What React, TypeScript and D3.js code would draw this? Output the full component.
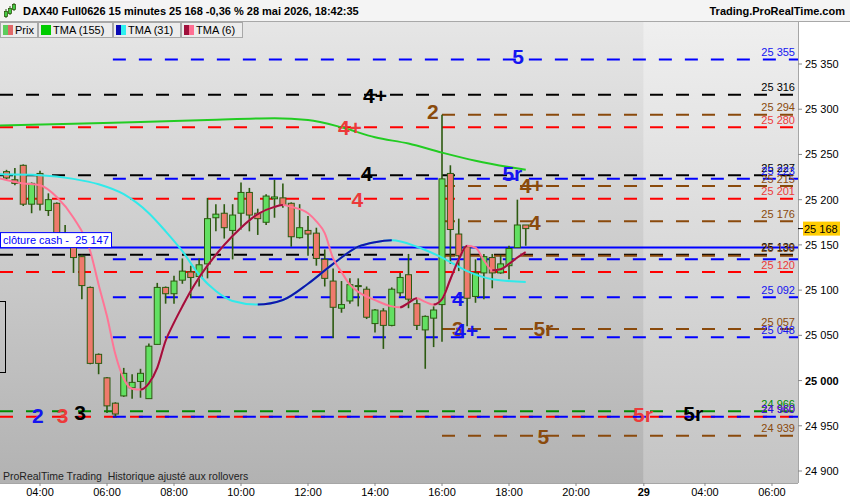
import * as d3 from 'd3';

const FONT = '"Liberation Sans", Arial, Helvetica, sans-serif';

// 15-minute bars, slot 0 = 04:00 on 28 May
const firstSlot = -4;
const opens = [
  25231, 25222, 25238, 25195, 25229, 25188, 25196, 25163, 25147, 25137,
  25103, 25029, 25003, 24975, 24983, 24992, 24999, 24980, 25040, 25103,
  25096, 25111, 25120, 25115, 25129, 25180, 25185, 25166, 25185, 25208,
  25185, 25175, 25201, 25202, 25196, 25158, 25166, 25163, 25134, 25110,
  25080, 25088, 25104, 25101, 25063, 25077, 25061, 25097, 25117, 25085,
  25056, 25069, 25084, 25229, 25162, 25148, 25093, 25119, 25136, 25119,
  25127, 25147, 25172,
];
const highs = [
  25233, 25235, 25239, 25219, 25232, 25207, 25197, 25172, 25149, 25139,
  25104, 25030, 25004, 24976, 25014, 25007, 25013, 25041, 25108, 25104,
  25116, 25135, 25127, 25135, 25202, 25195, 25195, 25195, 25219, 25213,
  25190, 25206, 25222, 25218, 25197, 25195, 25182, 25169, 25145, 25124,
  25110, 25113, 25113, 25104, 25079, 25080, 25103, 25119, 25140, 25090,
  25072, 25082, 25294, 25238, 25179, 25150, 25134, 25140, 25140, 25139,
  25149, 25200, 25172,
];
const lows = [
  25222, 25216, 25193, 25185, 25188, 25182, 25158, 25147, 25119, 25090,
  25018, 25007, 24964, 24960, 24982, 24980, 24981, 24980, 25040, 25085,
  25085, 25107, 25091, 25104, 25113, 25165, 25157, 25134, 25167, 25165,
  25161, 25172, 25180, 25191, 25148, 25157, 25138, 25127, 25104, 25047,
  25075, 25085, 25082, 25068, 25053, 25035, 25060, 25093, 25080, 25056,
  25013, 25037, 25043, 25129, 25121, 25060, 25086, 25090, 25102, 25118,
  25112, 25147, 25149,
];
const closes = [
  25224, 25218, 25195, 25218, 25195, 25200, 25162, 25150, 25136, 25105,
  25019, 25019, 24972, 24963, 25008, 24998, 25008, 25038, 25103, 25096,
  25110, 25121, 25114, 25128, 25179, 25184, 25169, 25183, 25208, 25183,
  25179, 25204, 25203, 25194, 25159, 25169, 25162, 25135, 25113, 25081,
  25084, 25106, 25105, 25070, 25078, 25061, 25101, 25114, 25090, 25061,
  25071, 25078, 25223, 25167, 25138, 25091, 25119, 25137, 25119, 25129,
  25146, 25172, 25168,
];

// moving averages
const tma155Slots = [-5, 4, 12, 20, 28, 32, 36, 40, 44, 48, 52, 56, 58];
const tma155 = [25282, 25284, 25286, 25288, 25290, 25288, 25280, 25269, 25262, 25252, 25243, 25236, 25233];
const tma31Slots = [-5, 0, 4, 7, 10, 13, 15, 17, 19, 21, 23, 26, 29, 32, 35, 38, 40, 42, 45, 48, 51, 54, 58];
const tma31 = [25228, 25227, 25223, 25217, 25206, 25185, 25165, 25143, 25117, 25099, 25088, 25084, 25089, 25107, 25129, 25148, 25153, 25155, 25148, 25136, 25121, 25112, 25109];
const tma6Slots = [-5, -2, 0, 2, 4, 6, 7, 8, 9, 10, 11, 12, 13, 14, 15, 16, 17, 18, 19, 20, 22, 24, 26, 28, 29, 30, 32, 33, 34, 35, 36, 37, 38, 40, 42, 43, 44, 45, 46, 47, 48, 49, 50, 51, 52, 53, 54, 55, 56, 57, 58];
const tma6 = [
  25224, 25218, 25216, 25203, 25180, 25143, 25106, 25071, 25029, 25002,
  24991, 24990, 24997, 25014, 25044, 25064, 25082, 25099, 25114, 25127,
  25150, 25169, 25184, 25192, 25194, 25192, 25185, 25176, 25163, 25135,
  25120, 25106, 25098, 25089, 25082, 25081, 25086, 25091, 25087, 25084,
  25090, 25112, 25134, 25149, 25147, 25133, 25122, 25123, 25129, 25136, 25142,
];

// horizontal levels
const levelPrices = [25355, 25316, 25294, 25280, 25227, 25223, 25215, 25201, 25176, 25139, 25138, 25134, 25120, 25092, 25057, 25048, 24966, 24960, 24960, 24939];
const levelKinds = ['blue', 'black', 'brown', 'red', 'black', 'blue', 'brown', 'red', 'brown', 'black', 'brown', 'blue', 'red', 'blue', 'brown', 'blue', 'green', 'red', 'blue', 'brown'];
const levelShown = [true, true, true, true, true, true, true, true, true, true, true, false, true, true, true, true, true, true, true, true];
const cashClose = 25147;

// signal tags on the levels
const tagTexts = ['5', '4+', '2', '4+', '4', '5r', '4+', '4', '4', '4', '3', '5r', '4+', '2', '3', '3', '5r', '5r', '5'];
const tagKinds = ['blue', 'black', 'brown', 'red', 'black', 'blue', 'brown', 'red', 'brown', 'blue', 'brown', 'brown', 'blue', 'blue', 'red', 'black', 'red', 'black', 'brown'];
const tagPrices = [25358, 25315, 25298, 25280, 25229, 25229, 25216, 25200, 25175, 25091, 25058, 25058, 25055, 24961, 24961, 24965, 24962, 24964, 24938];
const tagSlots = [57.1, 40, 46.9, 37, 39, 56.4, 58.7, 37.9, 59.1, 49.9, 49.9, 60.1, 50.9, -0.25, 2.7, 4.8, 72, 78, 60.1];

const xTickLabels = ['04:00', '06:00', '08:00', '10:00', '12:00', '14:00', '16:00', '18:00', '20:00', '29', '04:00', '06:00'];
const xTickSlots = [0, 8, 16, 24, 32, 40, 48, 56, 64, 72.1, 79.4, 87.4];
const yTicks = [24900, 24950, 25000, 25050, 25100, 25150, 25200, 25250, 25300, 25350];

const legendNames = ['Prix', 'TMA (155)', 'TMA (31)', 'TMA (6)'];

const lineColor: Record<string, string> = {
  blue: '#0000ff', black: '#000000', brown: '#8a4a0c', red: '#ff0000', green: '#008a00',
};
const tagColor: Record<string, string> = {
  blue: '#1414f0', black: '#000000', brown: '#8a4a0c', red: '#ec3a3a', green: '#008a00',
};
const lineStart: Record<string, number> = { blue: 8.7, black: -6, brown: 48, red: -6, green: -6 };

const PL = 0, PR = 798, PT = 21, PB = 483;

export default function App() {
  const x = d3.scaleLinear().domain([0, 8]).range([40, 107]);
  const y = d3.scaleLinear().domain([24900, 25350]).range([471, 64]);
  const fmt = d3.formatLocale({ decimal: ',', thousands: ' ', grouping: [3], currency: ['', ''] }).format(',d');
  const futureX = x(xTickSlots[9]);

  const path = (slots: number[], vals: number[]) =>
    d3.line<[number, number]>()
      .x(d => x(d[0]))
      .y(d => y(d[1]))
      .curve(d3.curveMonotoneX)(slots.map((s, i) => [s, vals[i]] as [number, number])) || '';

  // x-ranges where a moving average rises (drawn in its second colour)
  const rising = (slots: number[], vals: number[]) => {
    const out: [number, number][] = [];
    for (let i = 0; i < vals.length - 1; i++) {
      if (vals[i + 1] > vals[i]) {
        const a = x(slots[i]), b = x(slots[i + 1]);
        const last = out[out.length - 1];
        if (last && Math.abs(last[1] - a) < 0.01) last[1] = b;
        else out.push([a, b]);
      }
    }
    return out;
  };

  const last = closes[closes.length - 1];
  const tabX = [0, 38, 113, 181];
  const tabW = [37, 74, 67, 61];
  const pre = { whiteSpace: 'pre' as const };

  return (
    <svg width={850} height={500} style={{ position: 'fixed', left: 0, top: 0, background: '#fff' }} fontFamily={FONT}>
      <defs>
        <linearGradient id="bgPast" x1="0" y1="0" x2="0" y2="1">
          <stop offset="0" stopColor="#e6e6e6" />
          <stop offset="1" stopColor="#b2b2b2" />
        </linearGradient>
        <linearGradient id="bgFuture" x1="0" y1="0" x2="0" y2="1">
          <stop offset="0" stopColor="#efefef" />
          <stop offset="1" stopColor="#c4c4c4" />
        </linearGradient>
        <clipPath id="plot">
          <rect x={PL} y={PT} width={PR - PL} height={PB - PT} />
        </clipPath>
        <clipPath id="rise31">
          {rising(tma31Slots, tma31).map(([a, b], i) => (
            <rect key={i} x={a} y={PT} width={b - a} height={PB - PT} />
          ))}
        </clipPath>
        <clipPath id="rise6">
          {rising(tma6Slots, tma6).map(([a, b], i) => (
            <rect key={i} x={a} y={PT} width={b - a} height={PB - PT} />
          ))}
        </clipPath>
      </defs>

      {/* plot background */}
      <rect x={PL} y={PT} width={futureX - PL} height={PB - PT} fill="url(#bgPast)" />
      <rect x={futureX} y={PT} width={PR - futureX} height={PB - PT} fill="url(#bgFuture)" />

      <g clipPath="url(#plot)">
        {/* levels */}
        {levelPrices.map((p, i) => (
          <line key={i} x1={Math.max(PL, x(lineStart[levelKinds[i]]))} x2={PR} y1={y(p)} y2={y(p)}
            stroke={lineColor[levelKinds[i]]} strokeWidth={2} strokeDasharray="13 13" />
        ))}
        <line x1={PL} x2={PR} y1={y(cashClose)} y2={y(cashClose)} stroke="#0000ff" strokeWidth={2} />

        {/* left bracket */}
        <rect x={-20} y={301.5} width={25.5} height={71} fill="none" stroke="#000" strokeWidth={1} />

        {/* candles */}
        {opens.map((o, i) => {
          const c = closes[i];
          const cx = x(firstSlot + i);
          const top = y(Math.max(o, c));
          const h = Math.max(1, Math.abs(y(o) - y(c)));
          return (
            <g key={i}>
              <line x1={cx} x2={cx} y1={y(highs[i])} y2={y(lows[i])} stroke="#2c5a10" strokeWidth={1.6} />
              <rect x={cx - 3} y={top} width={6} height={h} fill={c >= o ? '#62e062' : '#ef7a6c'} stroke="#2c5a10" strokeWidth={1} />
            </g>
          );
        })}

        {/* moving averages */}
        <path d={path(tma155Slots, tma155)} fill="none" stroke="#22cc22" strokeWidth={2} />
        <path d={path(tma31Slots, tma31)} fill="none" stroke="#30eaea" strokeWidth={2} />
        <path d={path(tma31Slots, tma31)} fill="none" stroke="#1414aa" strokeWidth={2} clipPath="url(#rise31)" />
        <path d={path(tma6Slots, tma6)} fill="none" stroke="#ff7495" strokeWidth={2} />
        <path d={path(tma6Slots, tma6)} fill="none" stroke="#a0103c" strokeWidth={2} clipPath="url(#rise6)" />

        {/* level values at the right */}
        {levelPrices.map((p, i) => levelShown[i] && (
          <text key={i} x={PR - 3} y={y(p) - 3.5} textAnchor="end" fontSize={11} fill={tagColor[levelKinds[i]]}>
            {fmt(p)}
          </text>
        ))}

        {/* signal tags */}
        {tagTexts.map((t, i) => (
          <text key={i} x={x(tagSlots[i])} y={y(tagPrices[i])} dy="0.36em" textAnchor="middle"
            fontSize={21} fontWeight="bold" fill={tagColor[tagKinds[i]]}>
            {t}
          </text>
        ))}

        {/* cash close box */}
        <rect x={0.5} y={y(cashClose) - 15} width={111} height={15} fill="#fff" stroke="#0000ff" strokeWidth={1} />
        <text x={3} y={y(cashClose) - 3.5} fontSize={11} fill="#0000ff" style={pre}>{`clôture cash -  ${fmt(cashClose)}`}</text>

        <text x={3} y={480} fontSize={10.5} fill="#222" style={pre}>{'ProRealTime Trading  Historique ajusté aux rollovers'}</text>
      </g>

      {/* right axis */}
      <rect x={PR} y={PT} width={850 - PR} height={PB - PT} fill="#fff" />
      <line x1={PR + 0.5} x2={PR + 0.5} y1={PT} y2={PB} stroke="#a6a6a6" />
      {yTicks.map(v => (
        <g key={v}>
          <line x1={PR} x2={PR + 4} y1={y(v)} y2={y(v)} stroke="#888" />
          <text x={PR + 7} y={y(v) + 4} fontSize={11} fontWeight={v === 25000 ? 'bold' : 'normal'} fill="#000">{fmt(v)}</text>
        </g>
      ))}
      <line x1={PR} x2={PR + 5} y1={y(last)} y2={y(last)} stroke="#000" />
      <rect x={PR + 5} y={y(last) - 7} width={37} height={14} fill="#ffcc00" />
      <text x={PR + 6} y={y(last) + 4} fontSize={11} fill="#000">{fmt(last)}</text>

      {/* bottom axis */}
      <rect x={0} y={PB} width={850} height={500 - PB} fill="#fff" />
      <line x1={0} x2={PR} y1={PB + 0.5} y2={PB + 0.5} stroke="#a6a6a6" />
      {xTickLabels.map((l, i) => (
        <g key={i}>
          <line x1={x(xTickSlots[i])} x2={x(xTickSlots[i])} y1={PB} y2={PB + 3} stroke="#888" />
          <text x={x(xTickSlots[i])} y={496} textAnchor="middle" fontSize={11} fontWeight={l === '29' ? 'bold' : 'normal'} fill="#000">{l}</text>
        </g>
      ))}

      {/* header */}
      <rect x={0} y={0} width={850} height={21} fill="#f4f4f4" />
      <line x1={0} x2={850} y1={21.5} y2={21.5} stroke="#a8a8a8" />
      <g>
        <line x1={6} x2={6} y1={9} y2={18} stroke="#2c5a10" />
        <rect x={4.5} y={11.5} width={3} height={5} fill="#4c4" stroke="#2c5a10" strokeWidth={0.8} />
        <line x1={10} x2={10} y1={6} y2={15} stroke="#2c5a10" />
        <rect x={8.5} y={8.5} width={3} height={5} fill="#4c4" stroke="#2c5a10" strokeWidth={0.8} />
        <line x1={14} x2={14} y1={3} y2={11} stroke="#2c5a10" />
        <rect x={12.5} y={4.5} width={3} height={5} fill="#4c4" stroke="#2c5a10" strokeWidth={0.8} />
      </g>
      <text x={23} y={15} fontSize={11} fontWeight="bold" fill="#000">
        DAX40 Full0626 15 minutes 25 168 -0,36 % 28 mai 2026, 18:42:35
      </text>
      <text x={845} y={15} fontSize={11} fontWeight="bold" textAnchor="end" fill="#000">Trading.ProRealTime.com</text>

      {legendNames.map((n, i) => (
        <g key={n}>
          <rect x={tabX[i] + 0.5} y={22.5} width={tabW[i]} height={15} fill="#ececec" stroke="#a8a8a8" />
          <text x={tabX[i] + 15} y={34} fontSize={11} fill="#000">{n}</text>
        </g>
      ))}
      <rect x={3} y={25} width={5} height={10} fill="#5ccc5c" />
      <rect x={8} y={25} width={5} height={10} fill="#e06868" />
      <rect x={41} y={25} width={10} height={10} fill="#00cc00" />
      <rect x={116} y={25} width={5} height={10} fill="#0a0ab4" />
      <rect x={121} y={25} width={5} height={10} fill="#2ef0f0" />
      <rect x={184} y={25} width={5} height={10} fill="#a0103c" />
      <rect x={189} y={25} width={5} height={10} fill="#ff6f93" />
    </svg>
  );
}
